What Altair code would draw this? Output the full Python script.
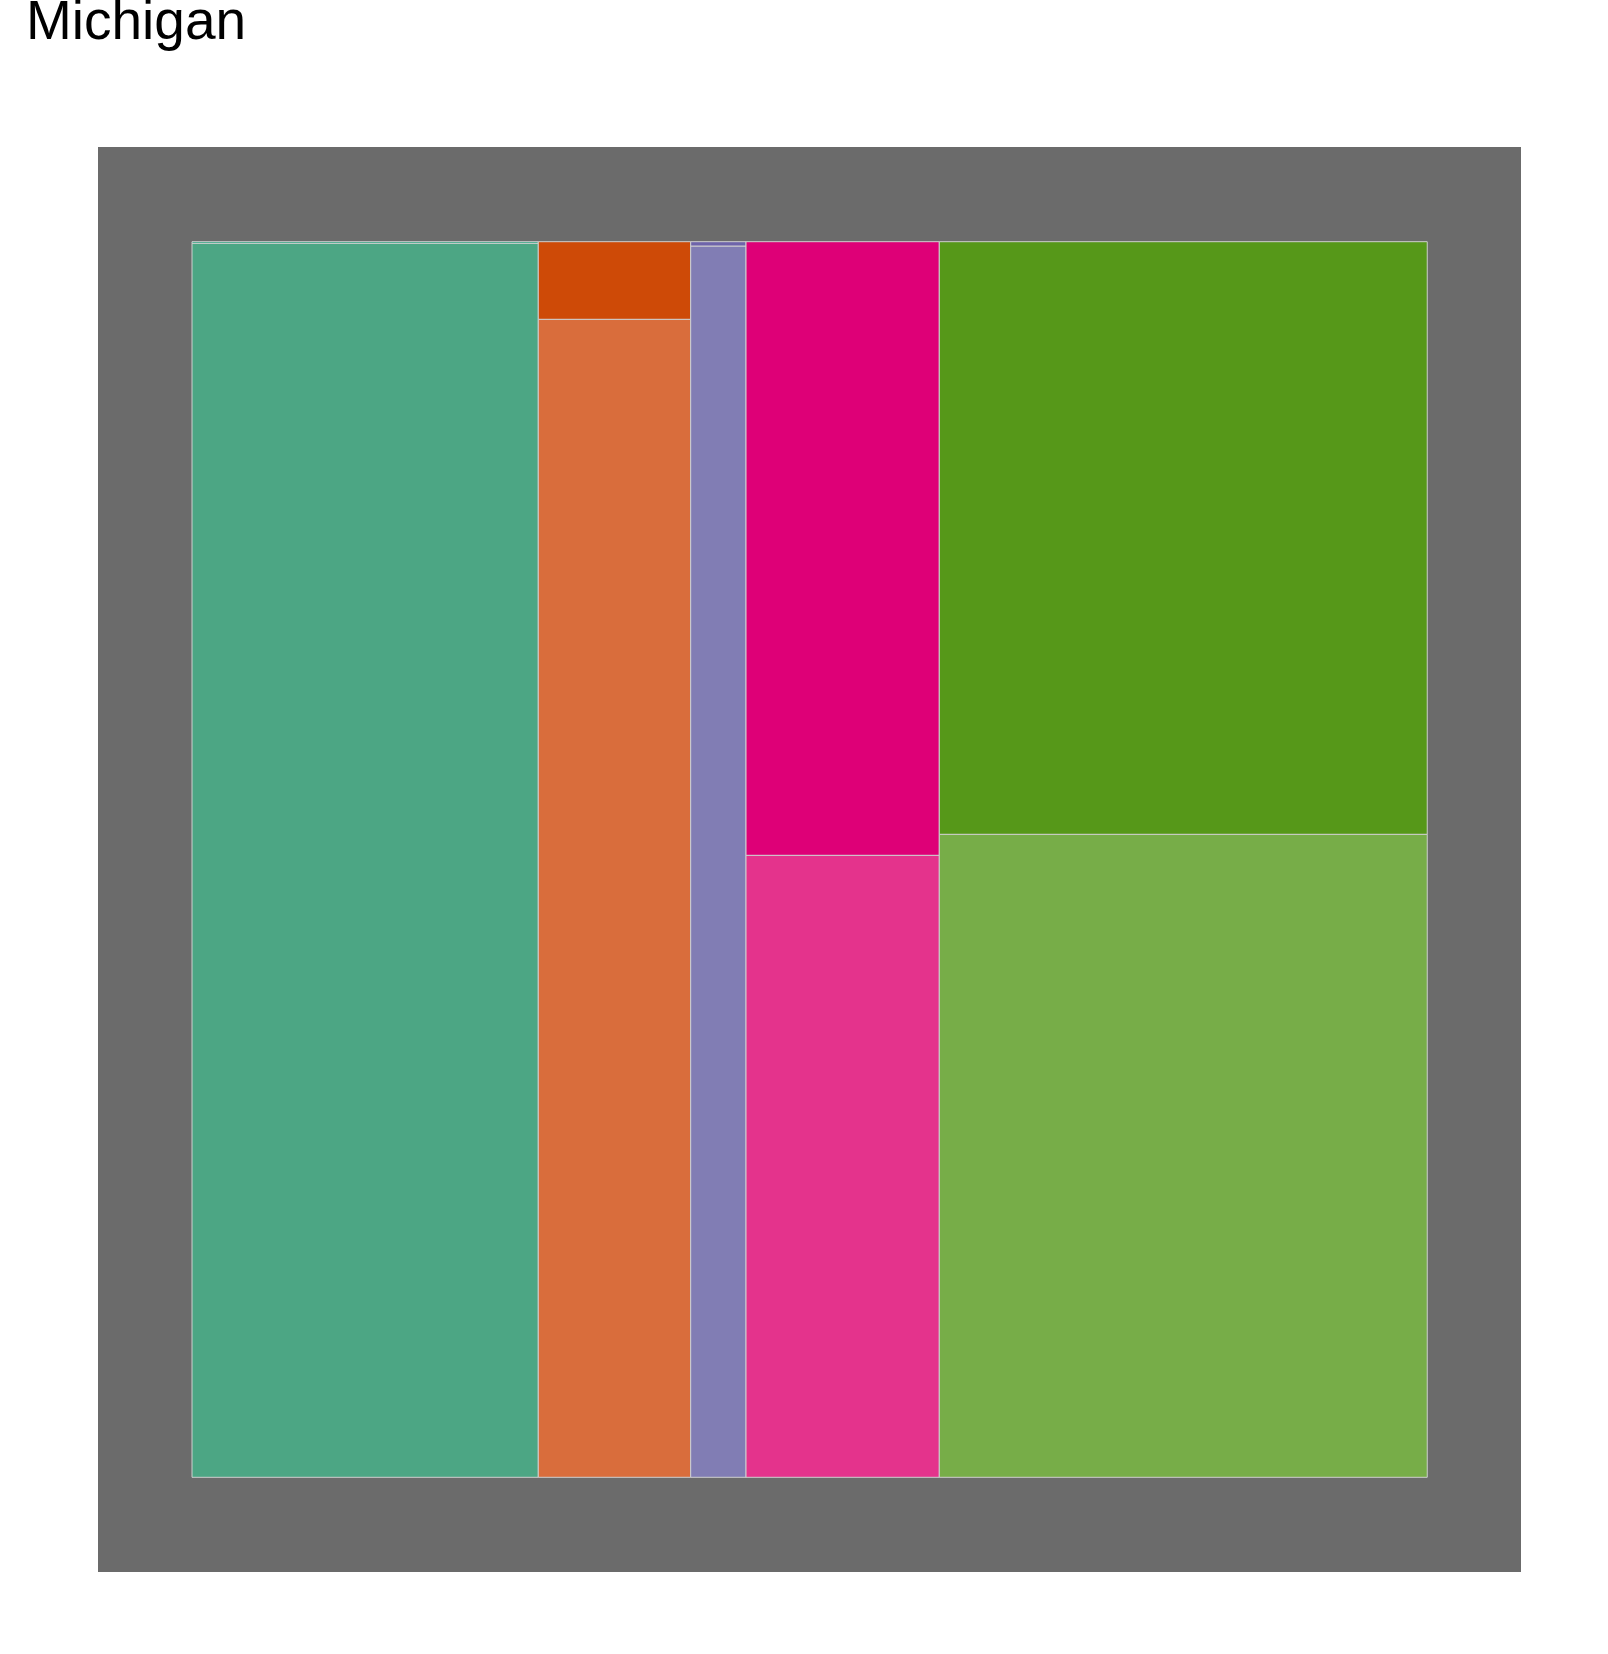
import altair as alt
import pandas as pd

# Column shares (widths) and share of the darker (top) level within each column
groups = ["A", "B", "C", "D", "E"]
col_widths = [0.2804, 0.1234, 0.0448, 0.1565, 0.3951]
top_share = [0.0013, 0.0628, 0.0035, 0.4966, 0.4796]
top_colors = ["#1B9E77", "#CE4A07", "#6E64AA", "#DE0077", "#569819"]
bottom_colors = ["#4CA684", "#D96D3C", "#817DB4", "#E4338C", "#77AD48"]

rows = []
x0 = 0.0
for g, w, t, ct, cb in zip(groups, col_widths, top_share, top_colors, bottom_colors):
    rows.append(dict(group=g, level="low", x=x0, x2=x0 + w, y=0.0, y2=1.0 - t, col=cb))
    rows.append(dict(group=g, level="high", x=x0, x2=x0 + w, y=1.0 - t, y2=1.0, col=ct))
    x0 += w
df = pd.DataFrame(rows)

W, H = 1423, 1425
xpad = 94 / 1235
ypad = 94.7 / 1235.6

chart = (
    alt.Chart(df)
    .mark_rect(stroke="#CFCFCF", strokeWidth=1)
    .encode(
        x=alt.X("x:Q", scale=alt.Scale(domain=[-xpad, 1 + xpad], nice=False, zero=False), axis=None),
        x2="x2:Q",
        y=alt.Y("y:Q", scale=alt.Scale(domain=[-ypad, 1 + ypad], nice=False, zero=False), axis=None),
        y2="y2:Q",
        color=alt.Color("col:N", scale=None),
        tooltip=["group:N", "level:N"],
    )
    .properties(
        width=W,
        height=H,
        title=alt.TitleParams(
            "Michigan",
            anchor="start",
            font="Liberation Sans",
            fontSize=55,
            fontWeight="normal",
            color="#000000",
            baseline="top",
            offset=96,
            dx=-72,
        ),
        padding={"left": 98, "top": 147, "right": 0, "bottom": 0},
        autosize=alt.AutoSizeParams(type="none"),
    )
    .configure(background="white")
    .configure_view(fill="#6B6B6B", strokeWidth=0)
)

chart.save("out.html", embed_options={"renderer": "svg", "actions": False})
